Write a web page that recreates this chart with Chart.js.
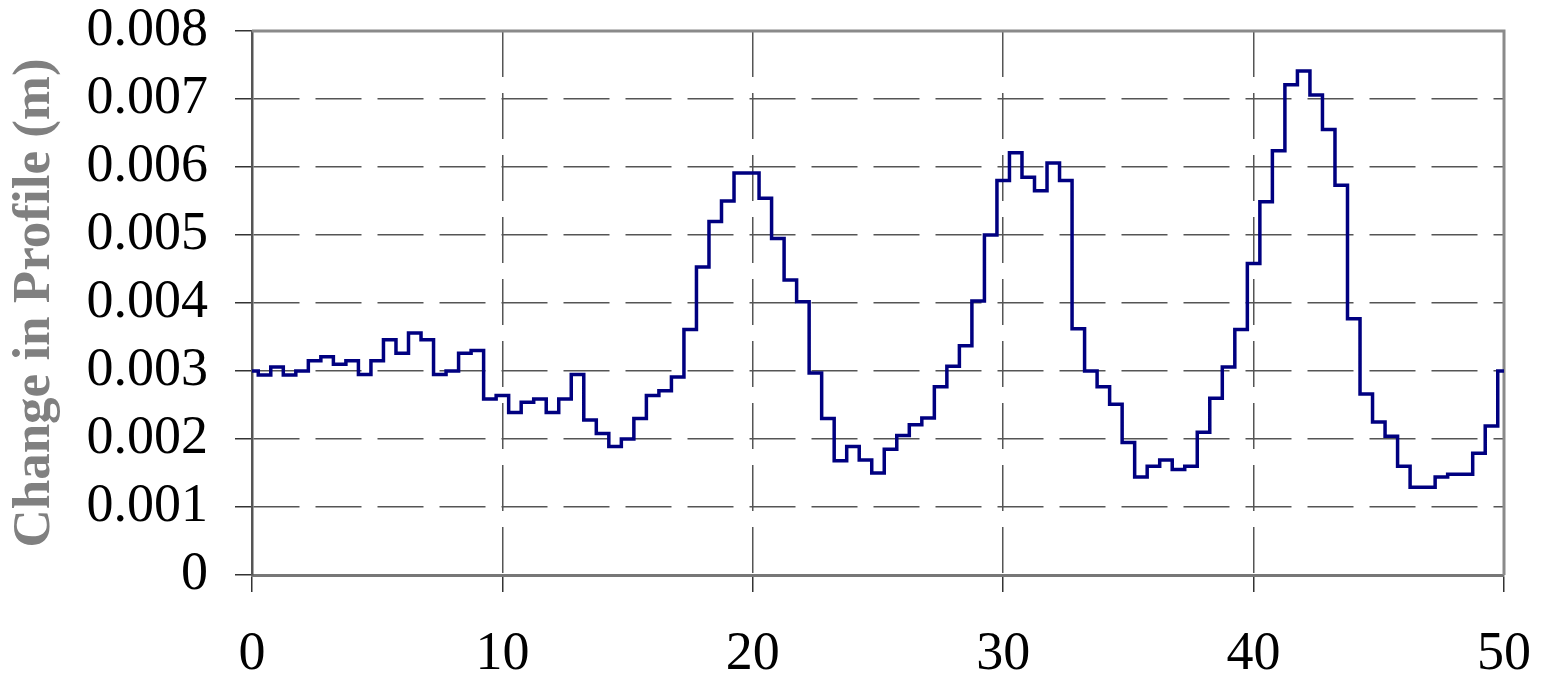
<!DOCTYPE html>
<html>
<head>
<meta charset="utf-8">
<script src="https://cdn.jsdelivr.net/npm/chart.js@4.4.1/dist/chart.umd.min.js"></script>
<style>
	html, body { margin: 0; padding: 0; background: #fff; }
	#wrap { width: 1548px; height: 681px; }
</style>
</head>
<body>
<div id="wrap"><canvas id="profileCanvas"></canvas></div>
<script>
// distance along the profile, sampled every 0.5
var distance = [
	0, 0.5, 1, 1.5, 2, 2.5, 3, 3.5, 4, 4.5,
	5, 5.5, 6, 6.5, 7, 7.5, 8, 8.5, 9, 9.5,
	10, 10.5, 11, 11.5, 12, 12.5, 13, 13.5, 14, 14.5,
	15, 15.5, 16, 16.5, 17, 17.5, 18, 18.5, 19, 19.5,
	20, 20.5, 21, 21.5, 22, 22.5, 23, 23.5, 24, 24.5,
	25, 25.5, 26, 26.5, 27, 27.5, 28, 28.5, 29, 29.5,
	30, 30.5, 31, 31.5, 32, 32.5, 33, 33.5, 34, 34.5,
	35, 35.5, 36, 36.5, 37, 37.5, 38, 38.5, 39, 39.5,
	40, 40.5, 41, 41.5, 42, 42.5, 43, 43.5, 44, 44.5,
	45, 45.5, 46, 46.5, 47, 47.5, 48, 48.5, 49, 49.5,
	50
];

// change in profile (m)
var profileChange = [
	0.0030, 0.00294, 0.00306, 0.00294, 0.0030, 0.00315, 0.00321, 0.0031, 0.00315, 0.00295,
	0.00315, 0.00346, 0.00326, 0.00356, 0.00346, 0.00295, 0.0030, 0.00326, 0.0033, 0.00259,
	0.00264, 0.00239, 0.00254, 0.00259, 0.00239, 0.00259, 0.00295, 0.00228, 0.00208, 0.00189,
	0.0020, 0.0023, 0.00264, 0.00271, 0.00291, 0.00361, 0.00453, 0.0052, 0.0055, 0.00591,
	0.00591, 0.00554, 0.00495, 0.00434, 0.00402, 0.00297, 0.0023, 0.00168, 0.00189, 0.00169,
	0.0015, 0.00185, 0.00205, 0.00221, 0.00231, 0.00277, 0.00307, 0.00337, 0.00403, 0.0050,
	0.0058, 0.00621, 0.00585, 0.00565, 0.00606, 0.0058, 0.00362, 0.0030, 0.00277, 0.00251,
	0.00195, 0.00144, 0.0016, 0.00169, 0.00155, 0.0016, 0.0021, 0.0026, 0.00306, 0.00361,
	0.00458, 0.00549, 0.00624, 0.00721, 0.00741, 0.00706, 0.00655, 0.00573, 0.00377, 0.00266,
	0.00225, 0.00204, 0.0016, 0.00129, 0.00129, 0.00144, 0.00148, 0.00148, 0.00179, 0.00219,
	0.0030
];

var xTicks = [0, 10, 20, 30, 40, 50];
var yTicks = [0, 0.001, 0.002, 0.003, 0.004, 0.005, 0.006, 0.007, 0.008];

var points = [];
for (var i in distance) {
	points.push({x: distance[i], y: profileChange[i]});
}

var serif = '"Liberation Serif", "Times New Roman", serif';

// grey frame on the top and right of the plot
var frame = {
	id: 'frame',
	beforeDatasetsDraw: function(chart) {
		var a = chart.chartArea;
		var ctx = chart.ctx;
		ctx.save();
		ctx.strokeStyle = '#8a8a8a';
		ctx.lineWidth = 3;
		ctx.beginPath();
		ctx.moveTo(a.left, a.top);
		ctx.lineTo(a.right, a.top);
		ctx.lineTo(a.right, a.bottom);
		ctx.stroke();
		ctx.restore();
	}
};

var ctx = document.getElementById('profileCanvas');

var chart = new Chart(ctx, {
	type: 'line',
	data: {
		datasets: [{
			label: 'profile',
			data: points,
			borderColor: '#000080',
			borderWidth: 3.5,
			stepped: 'middle',
			pointRadius: 0,
			fill: false
		}]
	},
	options: {
		responsive: true,
		maintainAspectRatio: false,
		animation: false,
		layout: { padding: { left: 0, right: 44, top: 31, bottom: 0 } },
		plugins: {
			legend: { display: false },
			tooltip: { enabled: false }
		},
		scales: {
			x: {
				type: 'linear',
				min: 0,
				max: 50,
				afterFit: function(scale) {
					scale.height = 106;
					scale.paddingLeft = 0;
					scale.paddingRight = 0;
				},
				afterBuildTicks: function(scale) {
					scale.ticks = xTicks.map(function(v) { return {value: v}; });
				},
				ticks: {
					color: '#000',
					font: { family: serif, size: 54 },
					padding: 30,
					maxRotation: 0,
					autoSkip: false
				},
				grid: {
					color: '#555',
					lineWidth: 1.5,
					tickLength: 17,
					tickColor: '#333',
					tickWidth: 1.5
				},
				border: { color: '#777', width: 3, dash: [46, 16] }
			},
			y: {
				min: 0,
				max: 0.008,
				afterFit: function(scale) {
					scale.width = 252;
					scale.paddingTop = 0;
					scale.paddingBottom = 0;
				},
				afterBuildTicks: function(scale) {
					scale.ticks = yTicks.map(function(v) { return {value: v}; });
				},
				ticks: {
					color: '#000',
					font: { family: serif, size: 54 },
					padding: 27,
					autoSkip: false,
					callback: function(v) { return v === 0 ? '0' : v.toFixed(3); }
				},
				grid: {
					color: '#555',
					lineWidth: 1.5,
					tickLength: 17,
					tickColor: '#333',
					tickWidth: 1.5
				},
				border: { color: '#555', width: 2.5, dash: [46, 16] },
				title: {
					display: true,
					text: 'Change in Profile (m)',
					color: '#808080',
					font: { family: serif, size: 53, weight: 'bold' },
					padding: { top: 4, bottom: 0 }
				}
			}
		}
	},
	plugins: [frame]
});
</script>
</body>
</html>
